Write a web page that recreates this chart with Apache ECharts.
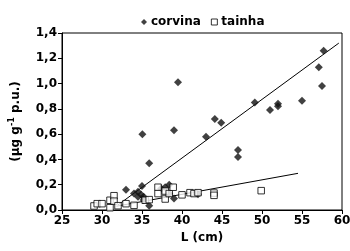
<!DOCTYPE html>
<html><head><meta charset="utf-8">
<script src="https://cdn.jsdelivr.net/npm/echarts@6/dist/echarts.min.js"></script>
<style>html,body{margin:0;padding:0;background:#fff}#c{width:350px;height:251px}</style>
</head><body><div id="c"></div>
<script>
var corvinaL  = [33.0,34.0,34.5,35.0,34.5,34.9,35.2,35.2,35.9,35.05,35.9,37.4,37.9,38.4,38.4,39.0,39.0,39.5,42.0,43.0,44.1,44.9,47.0,47.0,49.1,51.0,52.0,52.0,55.0,57.1,57.5,57.7];
var corvinaHg = [0.16,0.13,0.145,0.19,0.105,0.12,0.105,0.08,0.034,0.60,0.37,0.17,0.18,0.20,0.13,0.09,0.63,1.01,0.125,0.58,0.72,0.69,0.475,0.42,0.85,0.79,0.84,0.82,0.865,1.13,0.98,1.26];
var tainhaL  = [29.0,29.4,30.0,31.0,31.0,31.5,31.5,32.0,33.0,34.0,35.4,35.9,37.0,37.0,37.9,37.9,38.4,38.9,40.0,41.0,41.5,42.0,44.0,44.0,49.9];
var tainhaHg = [0.032,0.05,0.05,0.077,0.018,0.113,0.07,0.034,0.05,0.037,0.077,0.082,0.18,0.13,0.15,0.087,0.13,0.18,0.12,0.137,0.13,0.137,0.134,0.116,0.153];
var corvinaTrendL = [32.0, 59.6];
var corvinaTrendHg = [0.04, 1.32];
var tainhaTrendL = [31.8, 54.5];
var tainhaTrendHg = [0.03, 0.29];
var xTicks = [25,30,35,40,45,50,55,60];
var yTicks = ['0,0','0,2','0,4','0,6','0,8','1,0','1,2','1,4'];

function zip(a,b){return a.map(function(v,i){return [v,b[i]];});}
var F = 'DejaVu Sans, Arial, sans-serif';
var chart = echarts.init(document.getElementById('c'));
chart.setOption({
  animation:false,
  backgroundColor:'#fff',
  grid:{left:62,right:8,top:33,bottom:41,show:true,borderColor:'#000',borderWidth:1,containLabel:false,outerBoundsMode:'none'},
  legend:{
    data:[{name:'corvina',icon:'diamond'},{name:'tainha',icon:'rect',itemStyle:{color:'#fff',borderColor:'#000',borderWidth:1}}],
    top:11,left:136,itemWidth:6,itemHeight:6,itemGap:10,
    textStyle:{fontFamily:F,fontWeight:'bold',fontSize:12,color:'#000',padding:[0,0,0,-1]}
  },
  xAxis:{type:'value',min:25,max:60,interval:5,
    name:'L (cm)',nameLocation:'middle',nameGap:21,
    nameTextStyle:{fontFamily:F,fontWeight:'bold',fontSize:12,color:'#000'},
    axisLine:{lineStyle:{color:'#000',width:1}},
    axisTick:{show:true,length:4,lineStyle:{color:'#000'}},
    splitLine:{show:false},
    axisLabel:{fontFamily:F,fontWeight:'bold',fontSize:12,color:'#000',margin:5,
      formatter:function(v){return xTicks.indexOf(v)>=0?String(v):'';}}
  },
  yAxis:{type:'value',min:0,max:1.4,interval:0.2,
    name:'{a|(µg g}{s|-1}{a| p.u.)}',nameLocation:'middle',nameGap:40,nameRotate:90,
    nameTextStyle:{rich:{a:{fontFamily:F,fontWeight:'bold',fontSize:12,color:'#000',verticalAlign:'bottom',lineHeight:14},
      s:{fontFamily:F,fontWeight:'bold',fontSize:8,color:'#000',verticalAlign:'top',lineHeight:14}}},
    axisLine:{show:true,lineStyle:{color:'#000',width:1}},
    axisTick:{show:true,length:4,lineStyle:{color:'#000'}},
    splitLine:{show:false},
    axisLabel:{fontFamily:F,fontWeight:'bold',fontSize:12,color:'#000',margin:5,
      formatter:function(v){return yTicks[Math.round(v/0.2)];}}
  },
  series:[
    {name:'corvina',type:'scatter',symbol:'diamond',symbolSize:8,z:3,
     itemStyle:{color:'#111'},data:zip(corvinaL,corvinaHg)},
    {name:'tainha',type:'scatter',symbol:'rect',symbolSize:6.5,z:4,
     itemStyle:{color:'#fff',borderColor:'#000',borderWidth:1},data:zip(tainhaL,tainhaHg)},
    {name:'corvinaTrend',type:'line',symbol:'none',silent:true,z:2,
     lineStyle:{color:'#000',width:1},data:zip(corvinaTrendL,corvinaTrendHg)},
    {name:'tainhaTrend',type:'line',symbol:'none',silent:true,z:2,
     lineStyle:{color:'#000',width:1},data:zip(tainhaTrendL,tainhaTrendHg)}
  ]
});
</script></body></html>
